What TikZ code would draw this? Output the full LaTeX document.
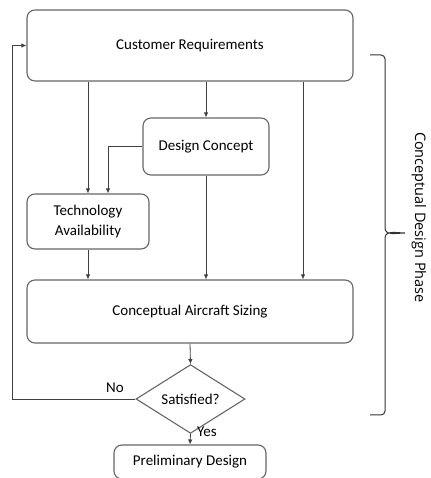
\documentclass[tikz,border=0pt]{standalone}
\usepackage{fontspec}
\setmainfont{Carlito}
\newfontfamily\phasefont{Open Sans}
\usetikzlibrary{shapes.geometric,arrows.meta}
\tikzset{
  blk/.style={draw=black!60,rounded corners=8pt,line width=1.1pt,align=center,
    inner sep=0pt,font=\fontsize{15}{20}\selectfont},
  arr/.style={draw=black!75,line width=0.8pt,-{Latex[length=5pt,width=4.5pt]}},
  lbl/.style={font=\fontsize{15}{18}\selectfont,inner sep=0pt},
}

\begin{document}
\begin{tikzpicture}[x=1pt,y=1pt]
  \useasboundingbox (0,0) rectangle (430,478);%
  % blocks
  \node[blk,minimum width=326pt,minimum height=71pt] (cr) at (190,432.5) {Customer Requirements};%
  \node[blk,minimum width=126pt,minimum height=57pt] (dc) at (206,331.5) {Design Concept};%
  \node[blk,minimum width=122pt,minimum height=55pt] (ta) at (88,256.5) {Technology\\Availability};%
  \node[blk,minimum width=326pt,minimum height=63pt] (cas) at (190,166.5) {Conceptual Aircraft Sizing};%
  \node[blk,diamond,rounded corners=0pt,minimum width=109pt,minimum height=48pt] (sat) at (190.5,79) {Satisfied?};%
  \node[blk,minimum width=152pt,minimum height=34pt] (pd) at (190,16) {Preliminary Design};%
  \coordinate (rt) at (303,0);%
  \coordinate (lp) at (12,0);%
  % connectors
  \draw[arr] (ta |- cr.south) -- (ta.north);%
  \draw[arr] (dc |- cr.south) -- (dc.north);%
  \draw[arr] (rt |- cr.south) -- (rt |- cas.north);%
  \draw[arr] (dc.west) -| ([xshift=20pt]ta.north);%
  \draw[arr] (ta.south) -- (ta |- cas.north);%
  \draw[arr] (dc.south) -- (dc |- cas.north);%
  \draw[arr] (cas.south) -- (sat.north);%
  \draw[arr] (sat.south) -- (pd.north);%
  \draw[arr] (sat.west) -- (sat.west -| lp) |- (cr.west);%
  \node[lbl] (no) at (115,90) {No};%
  \node[lbl] (yes) at (207,46) {Yes};%
  % brace
  \draw[black!80,line width=1pt] (370,423) -- (381,423) to[out=0,in=90] (385,419)
    -- (385,250) to[out=-90,in=180] (405,245) to[out=180,in=90] (385,240)
    -- (385,67) to[out=-90,in=0] (381,63) -- (370,63);%
  \node[rotate=-90,inner sep=0pt,font=\phasefont\fontsize{14.5}{17}\selectfont] (phase) at (419,260.5) {Conceptual Design Phase};%
\end{tikzpicture}
\end{document}
